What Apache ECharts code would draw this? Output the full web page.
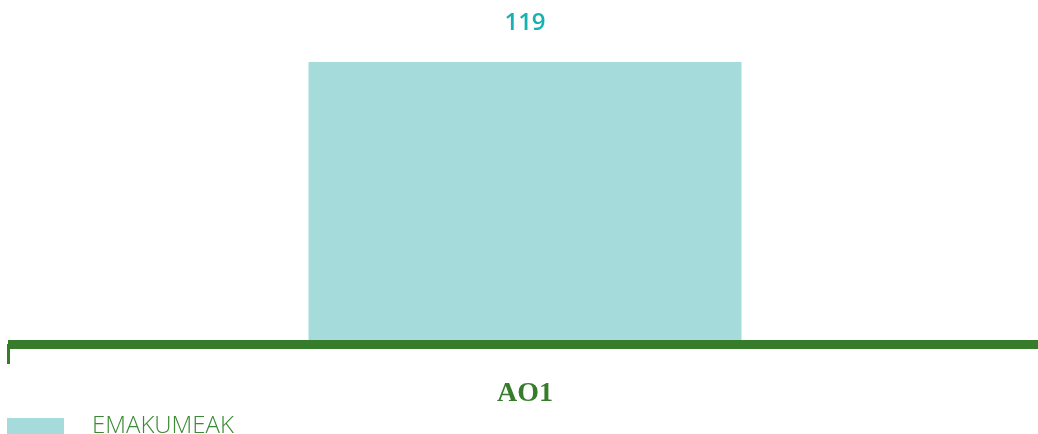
<!DOCTYPE html>
<html><head><meta charset="utf-8">
<script src="https://cdn.jsdelivr.net/npm/echarts@6/dist/echarts.min.js"></script>
<style>html,body{margin:0;padding:0;background:#fff}#c{width:1038px;height:434px}</style>
</head><body><div id="c"></div>
<script>
const categories = ['AO1'];
const seriesName = 'EMAKUMEAK';
const values = [119];

const chart = echarts.init(document.getElementById('c'));
chart.setOption({
  animation: false,
  grid: { left: 8, right: -4, top: 62, bottom: 90, outerBoundsMode: 'none', containLabel: false },
  legend: {
    left: 2, top: 409,
    itemWidth: 57, itemHeight: 16,
    icon: 'rect',
    textStyle: { color: '#3a8a35', fontSize: 24, fontFamily: 'Open Sans', fontWeight: 300, padding: [0, 0, 0, 23] },
    data: [seriesName]
  },
  xAxis: {
    type: 'category',
    data: categories,
    z: 10,
    axisLine: { lineStyle: { color: '#367c2b', width: 9, cap: 'butt' } },
    axisTick: { show: true, length: 20, lineStyle: { color: '#367c2b', width: 3, cap: 'butt' } },
    axisLabel: { color: '#367c2b', fontSize: 28, fontWeight: 'bold', fontFamily: 'Liberation Serif', margin: 36 }
  },
  yAxis: { type: 'value', min: 0, max: 119, show: false, splitLine: { show: false } },
  series: [{
    name: seriesName,
    type: 'bar',
    data: values,
    barWidth: 433,
    itemStyle: { color: '#a5dbdb' },
    label: { show: true, position: 'top', distance: 27, color: '#14b2b2', fontSize: 24, fontWeight: 600, fontFamily: 'Open Sans' }
  }]
});
</script></body></html>
